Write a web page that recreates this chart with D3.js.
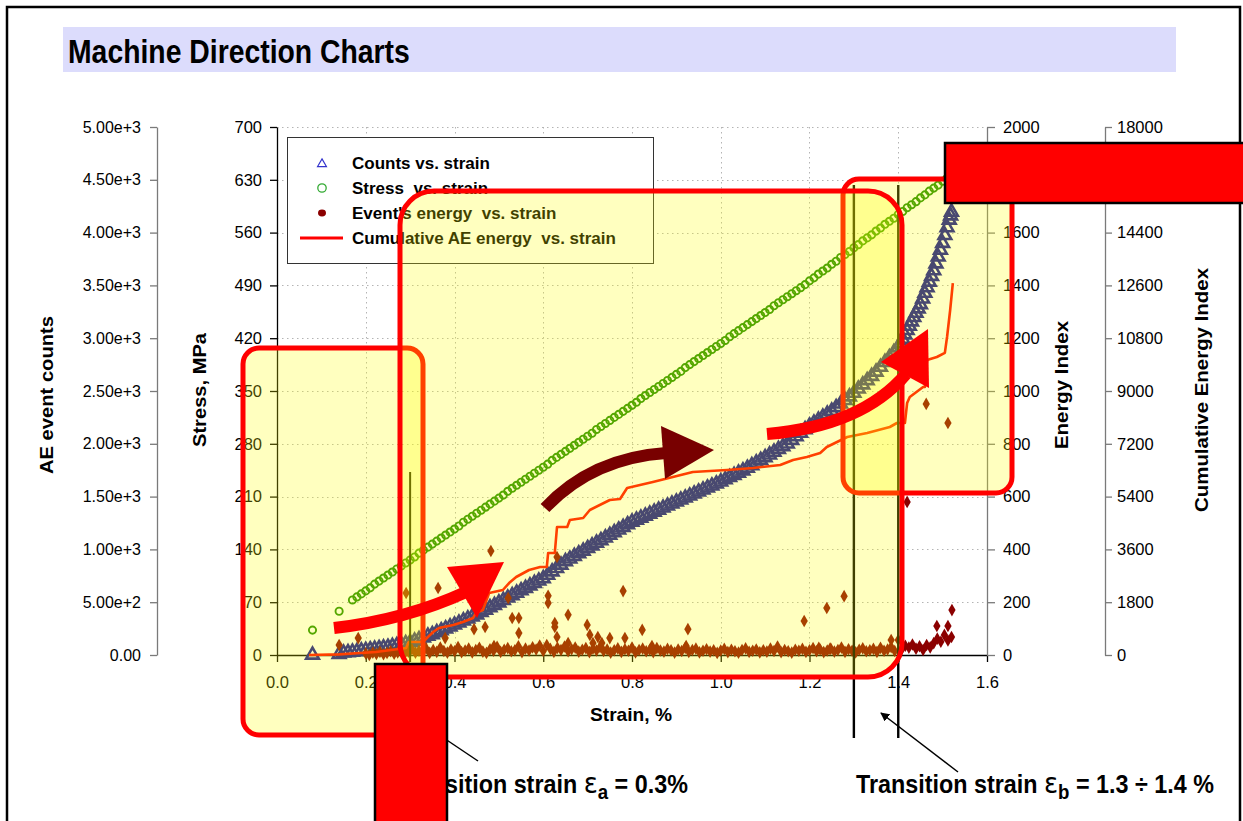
<!DOCTYPE html>
<html>
<head>
<meta charset="utf-8">
<script src="https://cdn.jsdelivr.net/npm/d3@7"></script>
<style>
  body { margin: 0; background: #fff; }
  svg { display: block; }
</style>
</head>
<body>
<svg id="chart" width="1243" height="821"></svg>
<script>
// ---------- axis ticks ----------
const strainTicks = [0, 0.2, 0.4, 0.6, 0.8, 1.0, 1.2, 1.4, 1.6];
const strainTickLabels = ["0.0", "0.2", "0.4", "0.6", "0.8", "1.0", "1.2", "1.4", "1.6"];
const stressTicks = [0, 70, 140, 210, 280, 350, 420, 490, 560, 630, 700];
const countTicks = [0, 500, 1000, 1500, 2000, 2500, 3000, 3500, 4000, 4500, 5000];
const countTickLabels = ["0.00", "5.00e+2", "1.00e+3", "1.50e+3", "2.00e+3", "2.50e+3",
                         "3.00e+3", "3.50e+3", "4.00e+3", "4.50e+3", "5.00e+3"];
const energyTicks = [0, 200, 400, 600, 800, 1000, 1200, 1400, 1600, 1800, 2000];
const cumEnergyTicks = [0, 1800, 3600, 5400, 7200, 9000, 10800, 12600, 14400, 16200, 18000];

// transition strains (%): eps_a, eps_b lower, eps_b upper
const transitionStrains = [0.3, 1.3, 1.4];

// ---------- series: [strain %, value] ----------
// stress, MPa
const stressPoints = [[0.08,33],[0.14,58],
[0.17,73],[0.18,77],[0.19,81],[0.20,85],[0.21,89],[0.22,94],[0.23,98],[0.24,102],[0.25,106],[0.26,110],
[0.27,114],[0.28,118],[0.29,122],[0.30,126],[0.31,130],[0.32,135],[0.33,139],[0.34,143],[0.35,147],[0.36,151],
[0.37,155],[0.38,159],[0.39,163],[0.40,167],[0.41,171],[0.42,176],[0.43,180],[0.44,184],[0.45,188],[0.46,192],
[0.47,196],[0.48,200],[0.49,204],[0.50,208],[0.51,212],[0.52,217],[0.53,221],[0.54,225],[0.55,229],[0.56,233],
[0.57,237],[0.58,241],[0.59,245],[0.60,249],[0.61,253],[0.62,258],[0.63,262],[0.64,266],[0.65,270],[0.66,274],
[0.67,278],[0.68,282],[0.69,286],[0.70,290],[0.71,294],[0.72,299],[0.73,303],[0.74,307],[0.75,311],[0.76,315],
[0.77,319],[0.78,323],[0.79,327],[0.80,331],[0.81,335],[0.82,340],[0.83,344],[0.84,348],[0.85,352],[0.86,356],
[0.87,360],[0.88,364],[0.89,368],[0.90,372],[0.91,376],[0.92,381],[0.93,385],[0.94,389],[0.95,393],[0.96,397],
[0.97,401],[0.98,405],[0.99,409],[1.00,413],[1.01,417],[1.02,422],[1.03,426],[1.04,430],[1.05,434],[1.06,438],
[1.07,442],[1.08,446],[1.09,450],[1.10,454],[1.11,458],[1.12,463],[1.13,467],[1.14,471],[1.15,475],[1.16,479],
[1.17,483],[1.18,487],[1.19,491],[1.20,496],[1.21,500],[1.22,505],[1.23,509],[1.24,513],[1.25,518],[1.26,522],
[1.27,527],[1.28,531],[1.29,535],[1.30,540],[1.31,544],[1.32,549],[1.33,553],[1.34,557],[1.35,562],[1.36,566],
[1.37,571],[1.38,575],[1.39,579],[1.40,584],[1.41,588],[1.42,593],[1.43,597],[1.44,601],[1.45,606],[1.46,610],
[1.47,615],[1.48,619],[1.49,623],[1.50,628],[1.51,632],[1.52,637]];

// AE event counts
const countPoints = [[0.08,0],[0.14,8],
[0.15,20],[0.16,24],[0.17,29],[0.18,34],[0.19,40],[0.20,45],[0.21,51],[0.22,57],[0.23,63],[0.24,69],[0.25,75],
[0.26,83],[0.27,91],[0.28,100],[0.29,109],[0.30,118],[0.31,133],[0.32,148],[0.33,164],[0.34,180],[0.35,195],
[0.36,213],[0.37,231],[0.38,249],[0.39,267],[0.40,285],[0.41,304],[0.42,324],[0.43,343],[0.44,363],[0.45,382],
[0.46,405],[0.47,427],[0.48,450],[0.49,472],[0.50,495],[0.51,518],[0.52,541],[0.53,564],[0.54,587],[0.55,610],
[0.56,633],[0.57,656],[0.58,679],[0.59,702],[0.60,725],[0.61,757],[0.62,789],[0.63,821],[0.64,853],[0.65,885],
[0.66,910],[0.67,935],[0.68,960],[0.69,985],[0.70,1010],[0.71,1035],[0.72,1060],[0.73,1085],[0.74,1110],[0.75,1135],
[0.76,1160],[0.77,1185],[0.78,1210],[0.79,1235],[0.80,1260],[0.81,1279],[0.82,1298],[0.83,1317],[0.84,1336],[0.85,1355],
[0.86,1374],[0.87,1393],[0.88,1412],[0.89,1431],[0.90,1450],[0.91,1469],[0.92,1488],[0.93,1507],[0.94,1526],[0.95,1545],
[0.96,1564],[0.97,1583],[0.98,1602],[0.99,1621],[1.00,1640],[1.01,1661],[1.02,1682],[1.03,1703],[1.04,1724],[1.05,1745],
[1.06,1770],[1.07,1795],[1.08,1820],[1.09,1845],[1.10,1870],[1.11,1896],[1.12,1922],[1.13,1948],[1.14,1974],[1.15,2000],
[1.16,2034],[1.17,2068],[1.18,2102],[1.19,2136],[1.20,2170],[1.21,2198],[1.22,2226],[1.23,2254],[1.24,2282],[1.25,2310],
[1.26,2344],[1.27,2378],[1.28,2412],[1.29,2446],[1.30,2480],[1.31,2520],[1.32,2560],[1.33,2600],[1.34,2640],[1.35,2680],
[1.36,2726],[1.37,2772],[1.38,2818],[1.39,2864],[1.40,2910],[1.405,2950],[1.41,2992],[1.415,3033],[1.42,3074],[1.425,3115],
[1.43,3156],[1.435,3197],[1.44,3238],[1.445,3279],[1.45,3320],[1.455,3373],[1.46,3427],[1.465,3480],[1.47,3533],[1.475,3587],
[1.48,3640],[1.485,3705],[1.49,3770],[1.495,3835],[1.50,3900],[1.505,3974],[1.51,4048],[1.515,4120],[1.518,4160],[1.52,4195]];

// event energy index: low-level band
const energyBand = [
[0.200,6],[0.208,0],[0.216,9],[0.224,4],[0.232,12],[0.240,3],[0.248,8],[0.256,14],[0.264,5],[0.272,10],
[0.280,18],[0.288,7],[0.296,13],[0.304,22],[0.312,9],[0.320,16],[0.328,11],[0.336,25],[0.344,8],[0.352,19],
[0.360,12],[0.368,28],[0.376,15],[0.384,9],[0.392,21],[0.400,14],[0.408,30],[0.416,11],[0.424,17],[0.432,24],
[0.440,10],[0.448,19],[0.456,27],[0.464,13],[0.472,8],[0.480,22],[0.488,16],[0.496,31],[0.504,12],[0.512,20],
[0.520,26],[0.528,14],[0.536,18],[0.544,33],[0.552,11],[0.560,24],[0.568,17],[0.576,29],[0.584,21],[0.592,36],
[0.600,15],[0.608,38],[0.616,23],[0.624,12],[0.632,27],[0.640,19],[0.648,32],[0.656,14],[0.664,22],[0.672,28],
[0.680,13],[0.688,20],[0.696,26],[0.704,11],[0.712,24],[0.720,17],[0.728,30],[0.736,15],[0.744,21],[0.752,9],
[0.760,18],[0.768,25],[0.776,12],[0.784,22],[0.792,16],[0.800,28],[0.808,10],[0.816,19],[0.824,24],[0.832,14],
[0.840,20],[0.848,11],[0.856,26],[0.864,17],[0.872,13],[0.880,23],[0.888,18],[0.896,9],[0.904,21],[0.912,15],
[0.920,27],[0.928,12],[0.936,19],[0.944,24],[0.952,10],[0.960,16],[0.968,22],[0.976,13],[0.984,18],[0.992,8],
[1.000,17],[1.008,23],[1.016,11],[1.024,20],[1.032,14],[1.040,9],[1.048,19],[1.056,25],[1.064,12],[1.072,16],
[1.080,21],[1.088,10],[1.096,18],[1.104,13],[1.112,24],[1.120,15],[1.128,32],[1.136,11],[1.144,19],[1.152,14],
[1.160,9],[1.168,20],[1.176,16],[1.184,23],[1.192,12],[1.200,18],[1.208,26],[1.216,14],[1.224,21],[1.232,11],
[1.240,17],[1.248,24],[1.256,13],[1.264,19],[1.272,28],[1.280,12],[1.288,22],[1.296,16],[1.304,10],[1.312,20],
[1.320,25],[1.328,14],[1.336,18],[1.344,23],[1.352,12],[1.360,27],[1.368,16],[1.376,21],[1.384,30],[1.392,15],
[1.400,57],[1.408,22],[1.416,35],[1.424,28],[1.432,40],[1.440,24],[1.448,33],[1.456,19],[1.464,38],[1.472,29],
[1.480,45],[1.488,62],[1.496,50],[1.504,76],[1.512,55],[1.520,68]];

// event energy index: isolated high-energy events
const energyPeaks = [
[0.14,38],[0.183,64],[0.291,235],[0.363,254],[0.379,64],[0.444,98],[0.469,106],[0.482,394],[0.489,34],
[0.521,216],[0.53,140],[0.545,140],[0.545,83],[0.611,224],[0.611,197],[0.631,371],[0.626,121],[0.626,106],
[0.631,68],[0.656,152],[0.656,45],[0.699,114],[0.705,76],[0.712,45],[0.723,68],[0.732,45],[0.75,64],
[0.78,242],[0.784,64],[0.823,95],[0.845,34],[0.922,34],[0.926,98],[1.188,129],[1.221,27],[1.239,178],
[1.246,23],[1.278,223],[1.384,57],[1.42,580],[1.463,951],[1.512,879],[1.521,170],[1.487,110],[1.512,110]];

// cumulative AE energy index
const cumEnergyPoints = [
[0.072,0],[0.14,20],[0.223,102],[0.291,239],[0.297,443],[0.329,443],[0.34,614],[0.352,784],[0.365,920],
[0.397,1023],[0.419,1125],[0.442,1261],[0.448,1432],[0.464,1534],[0.478,2114],[0.509,2216],[0.523,2454],
[0.539,2659],[0.568,2898],[0.593,3000],[0.608,3000],[0.611,3477],[0.626,3477],[0.631,4364],[0.654,4364],
[0.66,4602],[0.69,4670],[0.705,4943],[0.75,5284],[0.773,5318],[0.789,5693],[0.818,5795],[0.847,5898],
[0.892,6068],[0.937,6238],[1.014,6307],[1.073,6375],[1.134,6477],[1.163,6648],[1.194,6750],[1.224,6886],
[1.239,7091],[1.285,7432],[1.33,7568],[1.381,7773],[1.397,7909],[1.415,7909],[1.42,8591],[1.426,8795],
[1.456,9136],[1.46,9136],[1.465,10057],[1.487,10159],[1.505,10300],[1.51,10841],[1.517,11761],[1.523,12681]];

const legendLabels = ["Counts vs. strain", "Stress  vs. strain", "Event's energy  vs. strain", "Cumulative AE energy  vs. strain"];

// ---------- drawing ----------
const svg = d3.select("#chart");
const SANS = "'Liberation Sans', Arial, sans-serif";

const C_STRESS = "#1c8a00";
const C_COUNT = "#0c0c96";
const C_ENERGY = "#8b0000";
const C_CUM = "#ff0000";

svg.append("rect").attr("width", 1243).attr("height", 821).attr("fill", "#fff");

// page frame
svg.append("path").attr("d", "M7,821V7H1240V821")
  .attr("fill", "none").attr("stroke", "#000").attr("stroke-width", 2.5);

// heading band
svg.append("rect").attr("x", 63).attr("y", 27).attr("width", 1113).attr("height", 45).attr("fill", "#dcdcfc");
const title = svg.append("text").attr("x", 0).attr("y", 0)
  .attr("font-family", SANS).attr("font-weight", "bold").attr("font-size", 33)
  .attr("fill", "#000").text("Machine Direction Charts");
{
  const w = title.node().getBBox().width;
  title.attr("transform", `translate(68,63) scale(${342 / w},1)`);
}

// scales
const x = d3.scaleLinear().domain([0, 1.6]).range([277, 987]);
const yStress = d3.scaleLinear().domain([0, 700]).range([655, 127]);
const yCount = d3.scaleLinear().domain([0, 5000]).range([655, 127]);
const yEnergy = d3.scaleLinear().domain([0, 2000]).range([655, 127]);
const yCum = d3.scaleLinear().domain([0, 18000]).range([655, 127]);

// grid
const grid = svg.append("g").attr("stroke", "#b4b4b4").attr("stroke-width", 1).attr("stroke-dasharray", "1.5,3.5");
grid.selectAll("line.h").data(stressTicks.slice(1)).join("line")
  .attr("x1", x(0)).attr("x2", x(1.6))
  .attr("y1", d => Math.round(yStress(d)) + 0.5).attr("y2", d => Math.round(yStress(d)) + 0.5);
grid.selectAll("line.v").data(strainTicks.slice(1, -1)).join("line")
  .attr("x1", d => Math.round(x(d)) + 0.5).attr("x2", d => Math.round(x(d)) + 0.5)
  .attr("y1", yStress(700)).attr("y2", yStress(0));

function styleAxis(g, color, fs) {
  g.attr("font-family", SANS).attr("font-size", fs);
  g.select(".domain").attr("stroke", color).attr("stroke-width", 1.3);
  g.selectAll(".tick line").attr("stroke", color).attr("stroke-width", 1.3);
  g.selectAll(".tick text").attr("fill", "#000");
}
const plain = d3.format("d");

// AE counts axis (outer left)
svg.append("g").attr("transform", "translate(157,0)")
  .call(d3.axisLeft(yCount).tickValues(countTicks).tickFormat((d, i) => countTickLabels[i])
    .tickSize(7).tickSizeOuter(0).tickPadding(9))
  .call(g => styleAxis(g, "#7a7a7a", 16));

// stress axis
svg.append("g").attr("transform", "translate(277,0)")
  .call(d3.axisLeft(yStress).tickValues(stressTicks).tickFormat(plain).tickSize(7).tickSizeOuter(0).tickPadding(8))
  .call(g => styleAxis(g, "#000", 16.5));

// strain axis
svg.append("g").attr("transform", "translate(0,655)")
  .call(d3.axisBottom(x).tickValues(strainTicks).tickFormat((d, i) => strainTickLabels[i])
    .tickSize(7).tickSizeOuter(0).tickPadding(14))
  .call(g => styleAxis(g, "#000", 16.5));

// energy index axis
svg.append("g").attr("transform", "translate(987,0)")
  .call(d3.axisRight(yEnergy).tickValues(energyTicks).tickFormat(plain).tickSize(8).tickSizeOuter(0).tickPadding(8))
  .call(g => styleAxis(g, "#7a7a7a", 16.5));

// cumulative energy index axis
svg.append("g").attr("transform", "translate(1105,0)")
  .call(d3.axisRight(yCum).tickValues(cumEnergyTicks).tickFormat(plain).tickSize(7).tickSizeOuter(0).tickPadding(5))
  .call(g => styleAxis(g, "#7a7a7a", 16.5));

// axis titles
function vTitle(cx, cy, text, len) {
  svg.append("text").attr("transform", `translate(${cx},${cy}) rotate(-90)`)
    .attr("text-anchor", "middle").attr("font-family", SANS).attr("font-weight", "bold")
    .attr("font-size", 19).attr("textLength", len).attr("lengthAdjust", "spacingAndGlyphs").text(text);
}
vTitle(53, 395, "AE event counts", 158);
vTitle(206, 390, "Stress, MPa", 114);
vTitle(1068, 385, "Energy Index", 128);
vTitle(1208, 390, "Cumulative Energy Index", 244);
svg.append("text").attr("x", 631).attr("y", 721).attr("text-anchor", "middle")
  .attr("font-family", SANS).attr("font-weight", "bold").attr("font-size", 19)
  .attr("textLength", 82).attr("lengthAdjust", "spacingAndGlyphs").text("Strain, %");

// legend
const legend = svg.append("g");
legend.append("rect").attr("x", 287.5).attr("y", 137.5).attr("width", 366).attr("height", 126)
  .attr("fill", "#fff").attr("stroke", "#333").attr("stroke-width", 1);
const rowY = [163, 188, 213, 238];
legend.append("path").attr("d", d3.symbol(d3.symbolTriangle, 34)())
  .attr("transform", `translate(322,${rowY[0] + 1})`).attr("fill", "none").attr("stroke", "#3333cc").attr("stroke-width", 1.2);
legend.append("circle").attr("cx", 322).attr("cy", rowY[1]).attr("r", 4.2)
  .attr("fill", "none").attr("stroke", "#33aa33").attr("stroke-width", 1.3);
legend.append("ellipse").attr("cx", 322).attr("cy", rowY[2]).attr("rx", 4).attr("ry", 3.4).attr("fill", C_ENERGY);
legend.append("line").attr("x1", 300).attr("x2", 343).attr("y1", rowY[3]).attr("y2", rowY[3])
  .attr("stroke", C_CUM).attr("stroke-width", 3);
legend.selectAll("text.lab").data(legendLabels).join("text")
  .attr("x", 352).attr("y", (d, i) => rowY[i] + 6)
  .attr("font-family", SANS).attr("font-weight", "bold").attr("font-size", 17)
  .attr("xml:space", "preserve").style("white-space", "pre").text(d => d);

// data
const data = svg.append("g");
data.selectAll("circle.stress").data(stressPoints).join("circle")
  .attr("cx", d => x(d[0])).attr("cy", d => yStress(d[1])).attr("r", 3.6)
  .attr("fill", "none").attr("stroke", C_STRESS).attr("stroke-width", 1.9);

const triPath = d3.symbol(d3.symbolTriangle, 70)();
data.selectAll("path.count").data(countPoints).join("path")
  .attr("d", triPath).attr("transform", d => `translate(${x(d[0])},${yCount(d[1])})`)
  .attr("fill", "none").attr("stroke", C_COUNT).attr("stroke-width", 2.6);

const diamond = d3.symbol(d3.symbolDiamond, 46)();
data.selectAll("path.energy").data(energyBand.concat(energyPeaks)).join("path")
  .attr("d", diamond).attr("transform", d => `translate(${x(d[0])},${yEnergy(d[1])})`)
  .attr("fill", C_ENERGY);

data.append("path").datum(cumEnergyPoints)
  .attr("d", d3.line().x(d => x(d[0])).y(d => yCum(d[1])))
  .attr("fill", "none").attr("stroke", C_CUM).attr("stroke-width", 2.6).attr("stroke-linejoin", "round");

// transition strain markers
svg.append("line").attr("x1", x(transitionStrains[0])).attr("x2", x(transitionStrains[0]))
  .attr("y1", 472).attr("y2", 662).attr("stroke", "#000").attr("stroke-width", 2);
svg.selectAll("line.eb").data(transitionStrains.slice(1)).join("line")
  .attr("x1", d => x(d)).attr("x2", d => x(d)).attr("y1", 185).attr("y2", 738)
  .attr("stroke", "#000").attr("stroke-width", 2.4);

// highlighted zones
const zone = (x0, y0, w, h, r) => svg.append("rect")
  .attr("x", x0).attr("y", y0).attr("width", w).attr("height", h).attr("rx", r).attr("ry", r)
  .attr("fill", "rgba(255,255,0,0.25)").attr("stroke", "#ff0000").attr("stroke-width", 5);
zone(243, 348, 180, 387, 16);
zone(843, 179, 169, 314, 16);
zone(400, 191, 502, 486, 34);

// trend arrows
function arrow(shaft, head, color) {
  svg.append("path").attr("d", shaft).attr("fill", "none").attr("stroke", color).attr("stroke-width", 12);
  svg.append("path").attr("d", "M" + head.map(p => p.join(",")).join("L") + "Z").attr("fill", color);
}
arrow("M334,628Q405,620 466,592", [[447,567],[504,562],[477,618]], "#ff0000");
arrow("M545,508Q592,458 666,453", [[661,426],[714,450],[665,479]], "#780000");
arrow("M767,434Q862,426 906,374", [[881,362],[928,329],[929,388]], "#ff0000");

// leader lines
svg.append("defs").append("marker").attr("id", "head").attr("viewBox", "0 0 10 10")
  .attr("refX", 9).attr("refY", 5).attr("markerWidth", 9).attr("markerHeight", 9)
  .attr("markerUnits", "userSpaceOnUse").attr("orient", "auto")
  .append("path").attr("d", "M0,0L10,5L0,10Z").attr("fill", "#000");
svg.append("line").attr("x1", 414).attr("y1", 718).attr("x2", 478).attr("y2", 761)
  .attr("stroke", "#000").attr("stroke-width", 1.5);
svg.append("line").attr("x1", 958).attr("y1", 772).attr("x2", 881).attr("y2", 713)
  .attr("stroke", "#000").attr("stroke-width", 1.5).attr("marker-end", "url(#head)");

// transition strain annotations
function annotation(sub, tail) {
  const t = svg.append("text").attr("font-family", SANS).attr("font-weight", "bold")
    .attr("font-size", 25).attr("fill", "#000").attr("xml:space", "preserve");
  t.append("tspan").text("Transition strain ");
  t.append("tspan").attr("font-weight", "normal").attr("font-size", 28).attr("font-family", "'DejaVu Sans', sans-serif").text("\u03b5");
  t.append("tspan").attr("font-size", 20).attr("dy", 6).text(sub);
  t.append("tspan").attr("dy", -6).text(tail);
  return t;
}
const annB = annotation("b", " = 1.3 \u00f7 1.4 %");
const wB = annB.node().getBBox().width;
const sx = 358 / wB;
annB.attr("transform", `translate(856,793) scale(${sx},1)`);
const annA = annotation("a", " = 0.3%");
const wA = annA.node().getBBox().width;
annA.attr("transform", `translate(${688 - wA * sx},793) scale(${sx},1)`);

// cover blocks
svg.append("rect").attr("x", 945).attr("y", 143).attr("width", 310).attr("height", 60)
  .attr("fill", "#ff0000").attr("stroke", "#000").attr("stroke-width", 2.5);
svg.append("rect").attr("x", 375).attr("y", 664).attr("width", 72).attr("height", 170)
  .attr("fill", "#ff0000").attr("stroke", "#000").attr("stroke-width", 2.5);
</script>
</body>
</html>
